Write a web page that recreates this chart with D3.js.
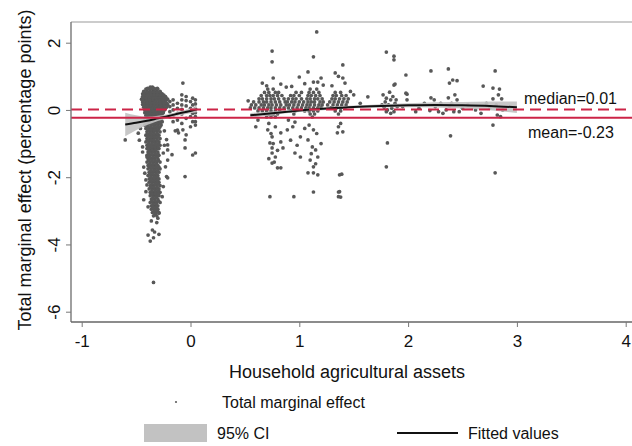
<!DOCTYPE html>
<html>
<head>
<meta charset="utf-8">
<script src="https://cdn.jsdelivr.net/npm/d3@7"></script>
<style>
  body { margin: 0; background: #fff; }
  text { font-family: "Liberation Sans", Arial, sans-serif; fill: #111; }
</style>
</head>
<body>
<script>
// dense column of points near x = -0.35 : [y, x1, x2, ...]
const blobRows = [
  [0.68, -0.37, -0.35],
  [0.62, -0.41, -0.38, -0.35, -0.32, -0.30],
  [0.55, -0.43, -0.40, -0.37, -0.34, -0.31, -0.28],
  [0.48, -0.44, -0.41, -0.38, -0.35, -0.32, -0.29, -0.26],
  [0.40, -0.44, -0.41, -0.38, -0.35, -0.32, -0.29, -0.26, -0.23],
  [0.32, -0.45, -0.42, -0.39, -0.36, -0.33, -0.30, -0.27, -0.24, -0.21],
  [0.24, -0.44, -0.41, -0.38, -0.35, -0.32, -0.29, -0.26, -0.23],
  [0.16, -0.44, -0.41, -0.38, -0.35, -0.32, -0.29, -0.26, -0.23, -0.21],
  [0.08, -0.43, -0.40, -0.37, -0.34, -0.31, -0.28, -0.25, -0.22],
  [0.00, -0.42, -0.39, -0.36, -0.33, -0.30, -0.27, -0.24],
  [-0.08, -0.42, -0.39, -0.36, -0.33, -0.30, -0.27, -0.25],
  [-0.16, -0.41, -0.38, -0.35, -0.32, -0.29, -0.26],
  [-0.25, -0.42, -0.39, -0.36, -0.33, -0.30, -0.27],
  [-0.35, -0.41, -0.38, -0.35, -0.32, -0.29, -0.26],
  [-0.45, -0.42, -0.39, -0.36, -0.33, -0.30, -0.27],
  [-0.55, -0.41, -0.38, -0.35, -0.32, -0.29],
  [-0.65, -0.40, -0.37, -0.34, -0.31, -0.28],
  [-0.75, -0.41, -0.38, -0.35, -0.32, -0.29],
  [-0.85, -0.40, -0.37, -0.34, -0.31, -0.28],
  [-0.95, -0.41, -0.38, -0.35, -0.32, -0.29],
  [-1.05, -0.40, -0.37, -0.34, -0.31, -0.28],
  [-1.15, -0.40, -0.37, -0.34, -0.31, -0.29],
  [-1.25, -0.39, -0.36, -0.33, -0.30],
  [-1.35, -0.40, -0.37, -0.34, -0.31, -0.29],
  [-1.45, -0.39, -0.36, -0.33, -0.30],
  [-1.55, -0.40, -0.37, -0.34, -0.31, -0.28],
  [-1.65, -0.39, -0.36, -0.33, -0.30],
  [-1.75, -0.39, -0.36, -0.33, -0.30, -0.28],
  [-1.85, -0.38, -0.35, -0.32, -0.29],
  [-1.95, -0.39, -0.36, -0.33, -0.30],
  [-2.05, -0.38, -0.35, -0.32, -0.29],
  [-2.15, -0.38, -0.35, -0.32, -0.29],
  [-2.25, -0.37, -0.34, -0.31, -0.28],
  [-2.35, -0.38, -0.35, -0.32, -0.29],
  [-2.45, -0.37, -0.34, -0.31, -0.28],
  [-2.55, -0.37, -0.34, -0.31, -0.29],
  [-2.65, -0.36, -0.33, -0.30],
  [-2.75, -0.37, -0.34, -0.31, -0.28],
  [-2.85, -0.36, -0.33, -0.30],
  [-2.95, -0.36, -0.33, -0.30],
  [-3.05, -0.35, -0.32, -0.29],
  [-3.15, -0.34, -0.31]
];

// more points of the same column, lying between the rows above
const blobFillRows = [
  [0.64, -0.395, -0.365, -0.335, -0.305],
  [0.52, -0.425, -0.395, -0.365, -0.335, -0.305, -0.275],
  [0.44, -0.425, -0.395, -0.365, -0.335, -0.305, -0.275, -0.245],
  [0.36, -0.435, -0.405, -0.375, -0.345, -0.315, -0.285, -0.255, -0.225],
  [0.28, -0.435, -0.405, -0.375, -0.345, -0.315, -0.285, -0.255, -0.225],
  [0.20, -0.425, -0.395, -0.365, -0.335, -0.305, -0.275, -0.245, -0.22],
  [0.12, -0.425, -0.395, -0.365, -0.335, -0.305, -0.275, -0.245],
  [0.04, -0.415, -0.385, -0.355, -0.325, -0.295, -0.265, -0.235],
  [-0.04, -0.405, -0.375, -0.345, -0.315, -0.285, -0.255],
  [-0.12, -0.395, -0.365, -0.335, -0.305, -0.275],
  [-0.20, -0.405, -0.375, -0.345, -0.315, -0.285],
  [-0.30, -0.395, -0.365, -0.335, -0.305, -0.275],
  [-0.40, -0.395, -0.365, -0.335, -0.305, -0.275],
  [-0.50, -0.395, -0.365, -0.335, -0.305, -0.28],
  [-0.60, -0.39, -0.36, -0.33, -0.30],
  [-0.70, -0.395, -0.365, -0.335, -0.305],
  [-0.80, -0.39, -0.36, -0.33, -0.30],
  [-0.90, -0.395, -0.365, -0.335, -0.305],
  [-1.00, -0.385, -0.355, -0.325, -0.295],
  [-1.10, -0.385, -0.355, -0.325, -0.30],
  [-1.20, -0.38, -0.35, -0.32],
  [-1.30, -0.385, -0.355, -0.325, -0.30],
  [-1.40, -0.375, -0.345, -0.315],
  [-1.50, -0.385, -0.355, -0.325, -0.295],
  [-1.60, -0.375, -0.345, -0.315],
  [-1.70, -0.375, -0.345, -0.315, -0.29],
  [-1.80, -0.365, -0.335, -0.305],
  [-1.90, -0.375, -0.345, -0.315],
  [-2.00, -0.365, -0.335, -0.305],
  [-2.10, -0.365, -0.335, -0.305],
  [-2.20, -0.355, -0.325, -0.295],
  [-2.30, -0.365, -0.335, -0.305],
  [-2.40, -0.355, -0.325, -0.295],
  [-2.50, -0.355, -0.325, -0.295],
  [-2.60, -0.345, -0.315],
  [-2.70, -0.355, -0.325, -0.295],
  [-2.80, -0.345, -0.315],
  [-2.90, -0.345, -0.315],
  [-3.00, -0.335, -0.305],
  [-3.10, -0.325]
];

// band of points along the fit between x = 0.55 and 1.45 : [y, x1, x2, ...]
const midRows = [
  [0.62, 0.71, 0.76, 1.10, 1.16],
  [0.52, 0.68, 0.72, 0.78, 0.81, 0.97, 1.02, 1.09, 1.13, 1.18, 1.33, 1.38],
  [0.43, 0.65, 0.70, 0.73, 0.76, 0.80, 0.84, 0.92, 0.95, 1.00, 1.08, 1.11, 1.15, 1.19, 1.31, 1.34, 1.39, 1.43],
  [0.33, 0.63, 0.66, 0.70, 0.74, 0.77, 0.81, 0.86, 0.90, 0.94, 0.97, 1.02, 1.07, 1.10, 1.14, 1.17, 1.21, 1.30, 1.33, 1.37, 1.41, 1.45],
  [0.24, 0.58, 0.63, 0.67, 0.70, 0.74, 0.78, 0.82, 0.87, 0.89, 0.93, 0.96, 1.00, 1.04, 1.08, 1.11, 1.14, 1.19, 1.22, 1.28, 1.32, 1.36, 1.40, 1.44],
  [0.15, 0.56, 0.60, 0.65, 0.68, 0.72, 0.75, 0.79, 0.83, 0.88, 0.91, 0.95, 0.99, 1.03, 1.07, 1.10, 1.14, 1.18, 1.21, 1.26, 1.31, 1.35, 1.39, 1.43],
  [0.06, 0.55, 0.59, 0.63, 0.67, 0.71, 0.74, 0.78, 0.82, 0.86, 0.90, 0.94, 0.98, 1.02, 1.06, 1.09, 1.13, 1.17, 1.20, 1.29, 1.34, 1.38, 1.42],
  [-0.03, 0.62, 0.66, 0.70, 0.74, 0.78, 0.82, 0.92, 0.96, 1.05, 1.09, 1.13, 1.17, 1.33, 1.38],
  [-0.12, 0.68, 0.72, 0.76, 0.80, 0.95, 1.10, 1.14, 1.36],
  [-0.21, 0.70, 0.74, 0.78, 1.12]
];

// scattered single points : [x, y]
const scatterPts = [
  // around the left column
  [-0.60, -0.89], [-0.48, -0.69], [-0.44, -1.10], [-0.44, -1.25], [-0.40, -1.40], [-0.43, -1.70],
  [-0.42, -1.88], [-0.41, -2.08], [-0.40, -2.23], [-0.41, -2.43], [-0.43, -2.67], [-0.39, -2.88],
  [-0.46, -0.55], [-0.47, -0.90], [-0.25, -1.28], [-0.23, -1.69], [-0.22, -1.98], [-0.25, -2.28],
  [-0.26, -2.58], [-0.29, -3.07], [-0.30, -3.22], [-0.24, -0.62], [-0.22, -0.88], [-0.21, -1.19],
  [-0.21, -1.49], [-0.21, -2.02], [-0.24, -1.05], [-0.39, -3.72], [-0.37, -3.90], [-0.35, -3.57],
  [-0.33, -3.63], [-0.29, -3.70], [-0.34, -3.80], [-0.34, -5.13], [-0.31, -3.35], [-0.36, -3.30],
  // just left of zero
  [-0.19, 0.25], [-0.19, 0.10], [-0.19, -0.05], [-0.19, -0.20],
  [-0.16, 0.30], [-0.16, 0.15], [-0.16, 0.00], [-0.16, -0.15], [-0.16, -0.35],
  [-0.12, 0.20], [-0.12, 0.05], [-0.12, -0.10], [-0.12, -0.30], [-0.12, -0.60],
  [-0.08, 0.45], [-0.08, 0.30], [-0.08, 0.15], [-0.08, 0.02], [-0.08, -0.12], [-0.08, -0.40],
  [-0.04, 0.40], [-0.04, 0.28], [-0.04, 0.12], [-0.04, -0.05], [-0.04, -0.25], [-0.04, -0.74],
  [-0.05, -1.13], [-0.05, -1.98], [-0.07, 0.80], [0.00, 0.25], [0.00, 0.05], [0.00, -0.20],
  [0.00, -0.50], [0.02, 0.35], [0.02, 0.15], [0.02, -0.10], [0.02, -0.35], [0.02, -1.34],
  [0.045, 0.30], [0.045, 0.18], [0.045, 0.05], [0.045, -0.08], [0.045, -0.20], [0.045, -0.35],
  [0.045, -0.45], [0.045, -1.28], [-0.17, -1.33], [-0.05, -0.89], [-0.07, -0.59], [-0.14, -0.62],
  [-0.11, -0.68], [-0.21, -1.04],
  // above the middle band
  [0.75, 1.75], [0.75, 1.43], [0.76, 0.95], [0.83, 0.77], [0.70, 0.72], [0.88, 0.68], [0.53, 0.27],
  [0.66, 0.80], [0.93, 0.70], [1.16, 2.32], [1.13, 1.58], [1.08, 1.13], [1.17, 0.83], [1.13, 0.83],
  [1.20, 0.95], [1.22, 0.74], [1.05, 0.78], [1.40, 1.34], [1.33, 1.10], [1.40, 0.95], [1.36, 1.00],
  [1.42, 0.80], [1.30, 0.72], [1.50, 0.45], [1.47, 0.55], [1.63, 0.39], [1.56, 0.20], [1.00, 0.98],
  // below the middle band
  [0.71, -0.59], [0.75, -0.80], [0.83, -0.68], [0.73, -0.98], [0.75, -1.13], [0.83, -0.95],
  [0.85, -1.13], [0.75, -1.28], [0.78, -1.40], [0.75, -1.58], [0.80, -1.72], [0.83, -1.72],
  [0.73, -2.58], [0.95, -2.58], [1.13, -2.44], [1.36, -2.44], [1.36, -2.58], [0.72, -0.40],
  [0.78, -0.50], [0.74, -0.70], [0.80, -1.20], [0.72, -1.45], [0.76, -1.00], [0.77, -1.55],
  [0.96, -0.36], [1.01, -0.80], [0.96, -1.28], [1.01, -1.40], [1.08, -0.89], [1.12, -1.10],
  [1.15, -1.19], [1.10, -1.49], [1.13, -1.69], [1.17, -1.93], [1.08, -1.87], [1.17, -1.40],
  [0.89, -0.59], [0.92, -0.90], [0.98, -1.05], [1.05, -0.55], [1.13, -0.59], [1.09, -0.45],
  [1.16, -0.70], [1.13, -1.87], [1.11, -1.30], [1.20, -1.00], [1.15, -1.60], [1.36, -0.50],
  [1.40, -0.65], [1.35, -0.68], [1.37, -1.93], [1.39, -1.91], [1.37, -2.43], [1.38, -2.59],
  [1.38, -0.40], [0.62, -0.30], [0.60, -0.50], [0.90, -0.30], [0.94, -0.50],
  // right part, x 1.75 to 3
  [1.77, 0.45], [1.80, 0.35], [1.83, 0.53], [1.84, 0.30], [1.87, 0.74], [1.88, 0.77], [1.86, 0.40],
  [1.79, 0.24], [1.82, 0.15], [1.85, 0.05], [1.88, 0.20], [1.90, 0.10], [1.78, 0.08], [1.81, 0.00],
  [1.84, -0.10], [1.87, -0.05], [1.89, 0.30], [1.76, 0.15], [1.80, -0.05], [1.80, 1.72], [1.87, 1.60],
  [1.87, 1.49], [1.98, 1.04], [1.81, -0.98], [1.80, -1.69], [1.99, 0.47], [1.99, 0.30], [1.95, 0.10],
  [2.07, -0.05], [2.10, 0.05], [2.15, 0.20], [1.98, 0.50],
  [2.21, 1.16], [2.37, 1.22], [2.41, 0.89], [2.45, 0.87], [2.38, 0.80], [2.39, -0.77], [2.21, 0.36],
  [2.24, 0.30], [2.37, 0.36], [2.45, 0.30], [2.25, 0.10], [2.28, -0.05], [2.35, 0.00], [2.38, 0.12],
  [2.42, -0.05], [2.47, -0.05], [2.50, 0.05], [2.32, -0.10], [2.20, -0.02], [2.40, 0.20], [2.43, 0.45],
  [2.30, 0.20],
  [2.69, 0.71], [2.80, 1.16], [2.78, 0.65], [2.84, 0.62], [2.86, 0.33], [2.78, 0.33], [2.67, -0.10],
  [2.82, -0.15], [2.85, -0.20], [2.78, -0.45], [2.80, -1.87], [2.81, 0.15], [2.75, 0.05], [2.62, 0.00],
  [2.87, 0.00], [2.72, 0.20], [2.83, 0.45], [2.55, 0.15]
];

// fitted values and 95% CI
const fitLeftX = [-0.6, -0.5, -0.4, -0.3, -0.2, -0.1, 0, 0.06];
const fitLeftY = [-0.43, -0.38, -0.32, -0.25, -0.18, -0.10, -0.03, 0.02];
const ciLeftLo = [-0.78, -0.60, -0.45, -0.33, -0.24, -0.16, -0.10, -0.07];
const ciLeftHi = [-0.08, -0.16, -0.20, -0.17, -0.12, -0.04, 0.04, 0.11];
const fitRightX = [0.55, 0.8, 1.0, 1.25, 1.5, 1.75, 2.0, 2.25, 2.5, 2.75, 3.0];
const fitRightY = [-0.16, -0.08, -0.02, 0.04, 0.09, 0.12, 0.14, 0.15, 0.14, 0.12, 0.08];
const ciRightLo = [-0.23, -0.13, -0.06, 0.00, 0.05, 0.07, 0.08, 0.07, 0.04, -0.01, -0.09];
const ciRightHi = [-0.09, -0.03, 0.02, 0.08, 0.13, 0.17, 0.20, 0.23, 0.24, 0.25, 0.25];

const medianValue = 0.01;
const meanValue = -0.23;
const xTicks = [-1, 0, 1, 2, 3, 4];
const yTicks = [2, 0, -2, -4, -6];

const W = 632, H = 446;
const plot = { left: 71, top: 22, right: 632, bottom: 322 };

const svg = d3.select('body').append('svg')
  .attr('width', W)
  .attr('height', H);

const x = d3.scaleLinear().domain([-1, 4]).range([81.7, 625.7]);
const y = d3.scaleLinear().domain([2, -6]).range([42.7, 311.7]);

// all the points
const rowsToPoints = (rows) => rows.flatMap((r) => r.slice(1).map((v) => [v, r[0]]));
const points = [
  ...rowsToPoints(blobRows),
  ...rowsToPoints(blobFillRows),
  ...rowsToPoints(midRows),
  ...scatterPts
];

svg.append('g')
  .selectAll('circle')
  .data(points)
  .join('circle')
  .attr('cx', (d) => x(d[0]))
  .attr('cy', (d) => y(d[1]))
  .attr('r', 1.85)
  .attr('fill', '#585858');

// CI bands
const band = d3.area()
  .x((d) => x(d.x))
  .y0((d) => y(d.lo))
  .y1((d) => y(d.hi))
  .curve(d3.curveMonotoneX);

const leftBand = fitLeftX.map((v, i) => ({ x: v, lo: ciLeftLo[i], hi: ciLeftHi[i], f: fitLeftY[i] }));
const rightBand = fitRightX.map((v, i) => ({ x: v, lo: ciRightLo[i], hi: ciRightHi[i], f: fitRightY[i] }));

svg.append('g')
  .selectAll('path')
  .data([leftBand, rightBand])
  .join('path')
  .attr('d', band)
  .attr('fill', '#c2c2c2')
  .attr('opacity', 0.92);

const fitLine = d3.line()
  .x((d) => x(d.x))
  .y((d) => y(d.f))
  .curve(d3.curveMonotoneX);

svg.append('g')
  .selectAll('path')
  .data([leftBand, rightBand])
  .join('path')
  .attr('d', fitLine)
  .attr('fill', 'none')
  .attr('stroke', '#111')
  .attr('stroke-width', 2);

// median and mean lines
svg.append('line')
  .attr('x1', plot.left).attr('x2', plot.right)
  .attr('y1', y(medianValue)).attr('y2', y(medianValue))
  .attr('stroke', '#cc2447')
  .attr('stroke-width', 2)
  .attr('stroke-dasharray', '11,6');

svg.append('line')
  .attr('x1', plot.left).attr('x2', plot.right)
  .attr('y1', y(meanValue)).attr('y2', y(meanValue))
  .attr('stroke', '#cc2447')
  .attr('stroke-width', 2);

svg.append('text')
  .attr('x', 524).attr('y', 98)
  .attr('dy', '0.35em')
  .style('font-size', '16px')
  .text('median=' + medianValue.toFixed(2));

svg.append('text')
  .attr('x', 528).attr('y', 132)
  .attr('dy', '0.35em')
  .style('font-size', '16px')
  .text('mean=' + meanValue.toFixed(2));

// frame
svg.append('line')
  .attr('x1', plot.left).attr('x2', plot.right)
  .attr('y1', plot.top).attr('y2', plot.top)
  .attr('stroke', '#9a9a9a').attr('stroke-width', 1.2);
svg.append('line')
  .attr('x1', plot.left).attr('x2', plot.left)
  .attr('y1', plot.top).attr('y2', plot.bottom)
  .attr('stroke', '#777').attr('stroke-width', 1.4);
svg.append('line')
  .attr('x1', plot.left).attr('x2', plot.right)
  .attr('y1', plot.bottom).attr('y2', plot.bottom)
  .attr('stroke', '#666').attr('stroke-width', 1.6);

// axes (plain hyphen for negatives, as in the original)
const plainFmt = (d) => String(d);

const xAxis = svg.append('g')
  .attr('transform', 'translate(0,' + plot.bottom + ')')
  .call(d3.axisBottom(x).tickValues(xTicks).tickSize(5).tickPadding(8).tickFormat(plainFmt));
xAxis.select('.domain').remove();
xAxis.selectAll('line').attr('stroke', '#777');
xAxis.selectAll('text').style('font-size', '17px').attr('fill', '#111');

const yAxis = svg.append('g')
  .attr('transform', 'translate(' + plot.left + ',0)')
  .call(d3.axisLeft(y).tickValues(yTicks).tickSize(5).tickFormat(plainFmt));
yAxis.select('.domain').remove();
yAxis.selectAll('line').attr('stroke', '#777');
yAxis.selectAll('text')
  .attr('x', null).attr('dy', null)
  .attr('text-anchor', 'middle')
  .attr('transform', 'translate(-17,0) rotate(-90)')
  .attr('dy', '0.35em')
  .style('font-size', '17px')
  .attr('fill', '#111');

// axis titles
svg.append('text')
  .attr('x', 347).attr('y', 372)
  .attr('dy', '0.35em')
  .attr('text-anchor', 'middle')
  .style('font-size', '18px')
  .text('Household agricultural assets');

svg.append('text')
  .attr('transform', 'translate(25,170) rotate(-90)')
  .attr('dy', '0.35em')
  .attr('text-anchor', 'middle')
  .style('font-size', '18px')
  .text('Total marginal effect (percentage points)');

// legend
svg.append('circle').attr('cx', 176).attr('cy', 402).attr('r', 1.1).attr('fill', '#5e5e5e');
svg.append('text').attr('x', 222).attr('y', 402).attr('dy', '0.35em')
  .style('font-size', '16px').text('Total marginal effect');
svg.append('rect').attr('x', 144).attr('y', 424).attr('width', 63).attr('height', 18)
  .attr('fill', '#c2c2c2');
svg.append('text').attr('x', 217).attr('y', 433).attr('dy', '0.35em')
  .style('font-size', '16px').text('95% CI');
svg.append('line').attr('x1', 397).attr('x2', 458).attr('y1', 433).attr('y2', 433)
  .attr('stroke', '#111').attr('stroke-width', 2);
svg.append('text').attr('x', 468).attr('y', 433).attr('dy', '0.35em')
  .style('font-size', '16px').text('Fitted values');
</script>
</body>
</html>
